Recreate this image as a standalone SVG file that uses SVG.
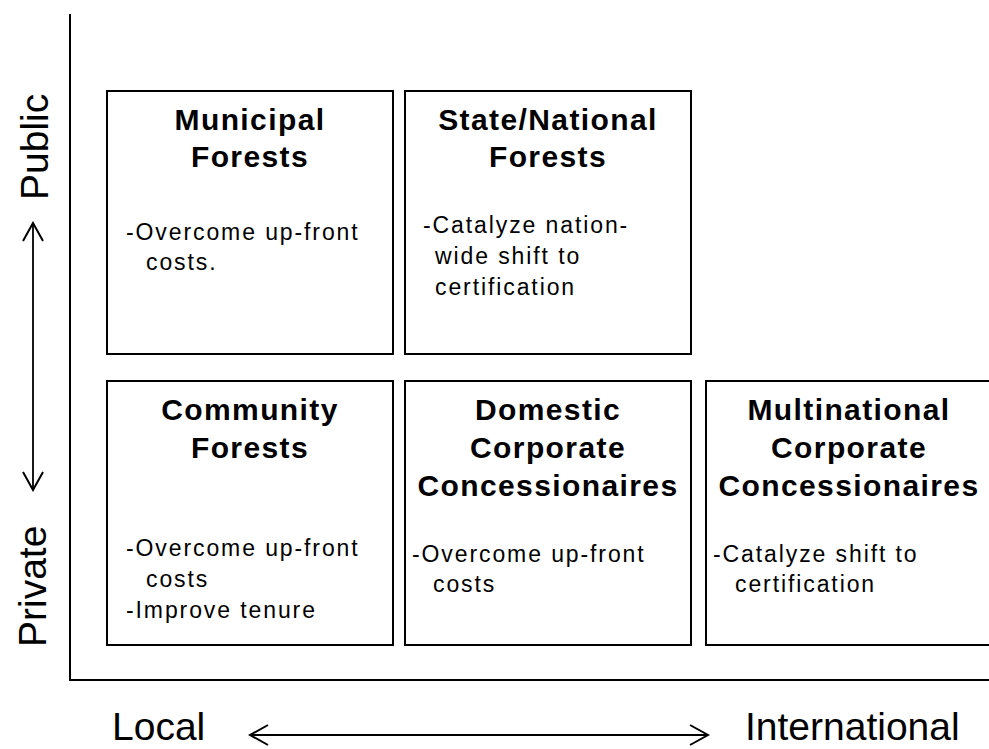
<svg xmlns="http://www.w3.org/2000/svg" width="989" height="749" viewBox="0 0 989 749">
<style>
  text { font-family: "Liberation Sans", Arial, sans-serif; fill: #000; }
  .box { fill: #fff; stroke: #000; stroke-width: 2; }
  .title { font-size: 30px; font-weight: bold; text-anchor: middle; letter-spacing: 1.4px; }
  .body { font-size: 23px; letter-spacing: 1.9px; }
  .axis { font-size: 39px; }
  .line { stroke: #000; stroke-width: 2; fill: none; }
  .arrow { stroke: #000; stroke-width: 1.8; fill: none; }
</style>
<defs>
  <marker id="chev" viewBox="-20 -12 22 24" markerWidth="22" markerHeight="24" refX="0" refY="0" orient="auto-start-reverse" markerUnits="userSpaceOnUse">
    <path d="M-18,-10 L0,0 L-18,10" fill="none" stroke="#000" stroke-width="2"/>
  </marker>
</defs>
<rect width="989" height="749" fill="#fff"/>

<g id="axes">
  <path class="line" d="M70,14 L70,680 L989,680"/>
  <line class="arrow" x1="33" y1="223" x2="33" y2="490" marker-start="url(#chev)" marker-end="url(#chev)"/>
  <line class="arrow" x1="250" y1="735" x2="708" y2="735" marker-start="url(#chev)" marker-end="url(#chev)"/>
  <text class="axis" transform="translate(48,200) rotate(-90)">Public</text>
  <text class="axis" transform="translate(46,647) rotate(-90)">Private</text>
  <text class="axis" x="112" y="740">Local</text>
  <text class="axis" x="745" y="740">International</text>
</g>

<g id="municipal">
  <rect class="box" x="107" y="91" width="286" height="263"/>
  <text class="title" x="250" y="130">Municipal</text>
  <text class="title" x="250" y="167">Forests</text>
  <text class="body" x="126" y="240">-Overcome up-front</text>
  <text class="body" x="146" y="270">costs.</text>
</g>

<g id="state">
  <rect class="box" x="405" y="91" width="286" height="263"/>
  <text class="title" x="548" y="130">State/National</text>
  <text class="title" x="548" y="167">Forests</text>
  <text class="body" x="423" y="233">-Catalyze nation-</text>
  <text class="body" x="435" y="264">wide shift to</text>
  <text class="body" x="435" y="295">certification</text>
</g>

<g id="community">
  <rect class="box" x="107" y="381" width="286" height="264"/>
  <text class="title" x="250" y="420">Community</text>
  <text class="title" x="250" y="458">Forests</text>
  <text class="body" x="126" y="556">-Overcome up-front</text>
  <text class="body" x="146" y="587">costs</text>
  <text class="body" x="126" y="618">-Improve tenure</text>
</g>

<g id="domestic">
  <rect class="box" x="405" y="381" width="286" height="264"/>
  <text class="title" x="548" y="420">Domestic</text>
  <text class="title" x="548" y="458">Corporate</text>
  <text class="title" x="548" y="496">Concessionaires</text>
  <text class="body" x="412" y="562">-Overcome up-front</text>
  <text class="body" x="433" y="592">costs</text>
</g>

<g id="multinational">
  <rect class="box" x="706" y="381" width="290" height="264"/>
  <text class="title" x="849" y="420">Multinational</text>
  <text class="title" x="849" y="458">Corporate</text>
  <text class="title" x="849" y="496">Concessionaires</text>
  <text class="body" x="713" y="562">-Catalyze shift to</text>
  <text class="body" x="735" y="592">certification</text>
</g>
</svg>
